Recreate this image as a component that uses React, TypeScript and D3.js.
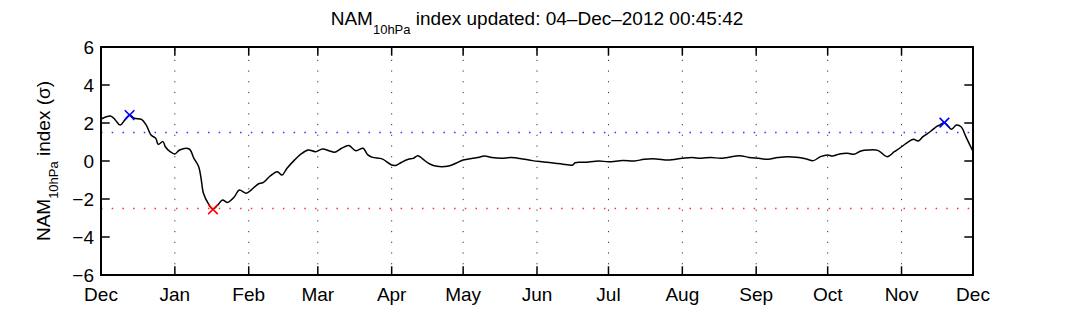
import React from "react";
import * as d3 from "d3";

const dayOffsets = [0,4,6,8,10,12,14,17,19,21,23,24,26,27,29,31,33,37,39,41,42,43,45,47,49,51,53,56,58,61,63,66,68,71,74,76,78,81,84,87,90,93,96,98,101,104,107,110,112,114,118,122,124,126,129,131,133,135,138,141,146,149,152,156,158,161,164,168,172,177,181,185,189,193,195,198,199,203,209,213,219,224,228,233,238,244,248,252,256,260,263,268,272,276,280,284,288,293,296,299,302,305,307,310,314,316,319,322,326,330,333,336,339,341,343,345,348,351,352,354,357,359,361,363,366];
const namValues = [2.21,2.37,2.16,1.89,2.16,2.42,2.25,2.19,1.89,1.37,1.19,0.88,1.02,0.75,0.49,0.37,0.58,0.63,0.14,-0.30,-0.91,-1.70,-2.23,-2.54,-2.32,-2.05,-2.18,-1.88,-1.53,-1.70,-1.53,-1.21,-1.14,-0.79,-0.56,-0.74,-0.39,0.02,0.37,0.58,0.49,0.63,0.53,0.46,0.67,0.81,0.54,0.67,0.32,0.19,0.11,-0.21,-0.22,-0.08,0.09,0.14,0.28,0.11,-0.16,-0.28,-0.26,-0.12,0.05,0.14,0.18,0.26,0.18,0.14,0.18,0.11,0.02,-0.04,-0.09,-0.15,-0.19,-0.21,-0.09,-0.07,0.00,-0.04,0.02,0.00,0.09,0.11,0.05,0.14,0.18,0.14,0.19,0.14,0.19,0.28,0.19,0.14,0.09,0.18,0.23,0.18,0.11,0.02,0.23,0.32,0.26,0.37,0.40,0.35,0.53,0.58,0.56,0.23,0.49,0.75,1.02,1.14,1.05,1.28,1.54,1.84,1.89,2.02,1.67,1.89,1.80,1.28,0.50];

const markerDays = [12, 47, 354];
const markerValues = [2.42, -2.54, 2.02];
const markerColors = ["#0000ff", "#ff0000", "#0000ff"];

const thresholdValues = [1.5, -2.5];
const thresholdColors = ["#0000ff", "#ff0000"];

const yTicks = [-6, -4, -2, 0, 2, 4, 6];
const titleMain = "NAM";
const titleSub = "10hPa";
const titleRest = " index updated: 04\u2013Dec\u20132012 00:45:42";
const yLabelRest = " index (\u03c3)";

const startDate = new Date(Date.UTC(2011, 11, 1));
const endDate = new Date(Date.UTC(2012, 11, 1));
const DAY = 86400000;

export default function App() {
  const W = 1072, H = 335;
  const left = 101, right = 973, top = 47, bottom = 275;
  const x = d3.scaleUtc().domain([startDate, endDate]).range([left, right]);
  const y = d3.scaleLinear().domain([-6, 6]).range([bottom, top]);
  const months = d3.utcMonth.range(startDate, new Date(endDate.getTime() + 1));
  const fmt = d3.utcFormat("%b");
  const yFmt = d3.format("");
  const data = dayOffsets.map((d, i) => ({ t: new Date(startDate.getTime() + d * DAY), v: namValues[i] }));
  const line = d3.line<any>().x(d => x(d.t)).y(d => y(d.v)).curve(d3.curveCatmullRom.alpha(0.5));
  const tl = 8.7;
  const font = "'Liberation Sans', Arial, Helvetica, sans-serif";
  const ms = 4.8;
  return (
    <svg width={W} height={H} style={{ position: "absolute", left: 0, top: 0, background: "#fff" }} fontFamily={font}>
      <rect x={0} y={0} width={W} height={H} fill="#fff" />
      {months.slice(1, -1).map((m, i) => (
        <line key={"g" + i} x1={x(m)} x2={x(m)} y1={bottom} y2={top} stroke="#000" strokeWidth={1} strokeDasharray="1.2 9.5" opacity={0.8} />
      ))}
      {thresholdValues.map((v, i) => (
        <line key={"t" + i} x1={left} x2={right} y1={y(v)} y2={y(v)} stroke={thresholdColors[i]} strokeWidth={1.5} strokeDasharray="1.5 9.2" opacity={0.8} />
      ))}
      <path d={line(data) || ""} fill="none" stroke="#000" strokeWidth={1.5} />
      {markerDays.map((d, i) => {
        const cx = x(new Date(startDate.getTime() + d * DAY));
        const cy = y(markerValues[i]);
        return (
          <g key={"m" + i} stroke={markerColors[i]} strokeWidth={1.6}>
            <line x1={cx - ms} y1={cy - ms} x2={cx + ms} y2={cy + ms} />
            <line x1={cx - ms} y1={cy + ms} x2={cx + ms} y2={cy - ms} />
          </g>
        );
      })}
      {months.map((m, i) => (
        <g key={"xt" + i} stroke="#000" strokeWidth={1.5}>
          <line x1={x(m)} x2={x(m)} y1={bottom} y2={bottom - tl} />
          <line x1={x(m)} x2={x(m)} y1={top} y2={top + tl} />
        </g>
      ))}
      {yTicks.map((v, i) => (
        <g key={"yt" + i} stroke="#000" strokeWidth={1.5}>
          <line x1={left} x2={left + tl} y1={y(v)} y2={y(v)} />
          <line x1={right} x2={right - tl} y1={y(v)} y2={y(v)} />
        </g>
      ))}
      <rect x={left} y={top} width={right - left} height={bottom - top} fill="none" stroke="#000" strokeWidth={2} />
      {months.map((m, i) => (
        <text key={"xl" + i} x={x(m)} y={301} textAnchor="middle" fontSize={19} fill="#000">{fmt(m)}</text>
      ))}
      {yTicks.map((v, i) => (
        <text key={"yl" + i} x={94} y={y(v)} dy="0.35em" textAnchor="end" fontSize={19} fill="#000">{yFmt(v)}</text>
      ))}
      <text x={(left + right) / 2} y={25} textAnchor="middle" fontSize={19} fill="#000">
        {titleMain}
        <tspan fontSize={13} dy={9}>{titleSub}</tspan>
        <tspan dy={-9}>{titleRest}</tspan>
      </text>
      <text transform={`translate(50,${(top + bottom) / 2}) rotate(-90)`} textAnchor="middle" fontSize={19} fill="#000">
        {titleMain}
        <tspan fontSize={13} dy={8}>{titleSub}</tspan>
        <tspan dy={-8}>{yLabelRest}</tspan>
      </text>
    </svg>
  );
}
